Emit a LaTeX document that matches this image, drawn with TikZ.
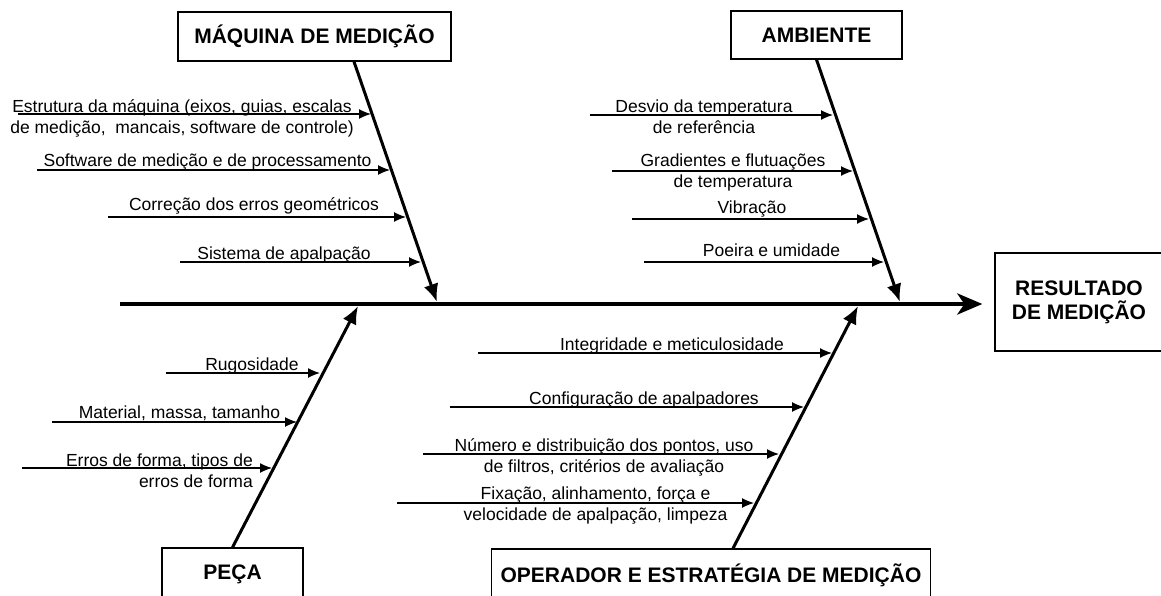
\documentclass[tikz,border=0pt]{standalone}
\usepackage{fontspec}
\setmainfont{Liberation Sans}
\usepackage{tikz}
\usetikzlibrary{arrows.meta,calc,positioning}
\tikzstyle{cause}=[draw, line width=1.3pt, inner sep=0pt, font=\bfseries\fontsize{21}{24}\selectfont]
\tikzstyle{effect}=[cause, align=center]
\tikzstyle{factor}=[inner sep=0pt, align=center, font=\fontsize{17.5}{21}\selectfont]
\tikzstyle{spine}=[-{Stealth[length=25pt, width=21pt, inset=7pt]}, line width=4.5pt]
\tikzstyle{bone}=[-{Latex[length=18pt, width=15pt]}, line width=3pt]
\tikzstyle{rib}=[-{Latex[length=12pt, width=10pt]}, line width=1.3pt]

\begin{document}
\begin{tikzpicture}[x=1pt, y=-1pt]
    \useasboundingbox (0,0) rectangle (1161,596);
    % heads and effect
    \node (maq) [cause, minimum width=273pt, minimum height=49pt] at (314.5,36.5) {MÁQUINA DE MEDIÇÃO};
    \node (amb) [cause, minimum width=171pt, minimum height=48pt] at (816.5,35) {AMBIENTE};
    \node (peca) [cause, minimum width=141pt, minimum height=52pt] at (232.5,574) {PEÇA};
    \node (oper) [cause, minimum width=439pt, minimum height=52pt] at (711,575) {OPERADOR E ESTRATÉGIA DE MEDIÇÃO};
    \node (res) [effect, minimum width=168pt, minimum height=98pt] at (1079,302) {RESULTADO\\DE MEDIÇÃO};
    %
    \coordinate (tail) at (120,304);
    \draw [spine, shorten >=12pt] (tail) -- (tail -| res.west);
    %
    \coordinate (maqtip) at (437,302);
    \coordinate (ambtip) at (900,302);
    \coordinate (pecatip) at (358,306);
    \coordinate (opertip) at (858,306);
    \draw [bone] ([xshift=39.5pt]maq.south) -- (maqtip);
    \draw [bone] (amb.south) -- (ambtip);
    \draw [bone] (peca.north) -- (pecatip);
    \draw [bone] ([xshift=22pt]oper.north) -- (opertip);
    % maquina de medicao
    \coordinate (m1) at (18,114);  \coordinate (m1e) at (371,114);
    \coordinate (m2) at (37,170);  \coordinate (m2e) at (390,170);
    \coordinate (m3) at (108,217); \coordinate (m3e) at (406,217);
    \coordinate (m4) at (180,262); \coordinate (m4e) at (421,262);
    \draw [rib] (m1) -- (m1e);
    \draw [rib] (m2) -- (m2e);
    \draw [rib] (m3) -- (m3e);
    \draw [rib] (m4) -- (m4e);
    \node (lm1) [factor] at (182,118) {Estrutura da máquina (eixos, guias, escalas\\de medição,\ \ mancais, software de controle)};
    \node (lm2) [factor, anchor=base] at (207.5,167) {Software de medição e de processamento};
    \node (lm3) [factor, anchor=base] at (254,210) {Correção dos erros geométricos};
    \node (lm4) [factor, anchor=base] at (284,259) {Sistema de apalpação};
    % ambiente
    \coordinate (a1) at (590,115); \coordinate (a1e) at (833,115);
    \coordinate (a2) at (612,171); \coordinate (a2e) at (853,171);
    \coordinate (a3) at (632,219); \coordinate (a3e) at (869,219);
    \coordinate (a4) at (644,262); \coordinate (a4e) at (884,262);
    \draw [rib] (a1) -- (a1e);
    \draw [rib] (a2) -- (a2e);
    \draw [rib] (a3) -- (a3e);
    \draw [rib] (a4) -- (a4e);
    \node (la1) [factor] at (704,117) {Desvio da temperatura\\de referência};
    \node (la2) [factor] at (733,172) {Gradientes e flutuações\\de temperatura};
    \node (la3) [factor, anchor=base] at (752,214) {Vibração};
    \node (la4) [factor, anchor=base] at (771.5,256) {Poeira e umidade};
    % peca
    \coordinate (p1) at (166,373); \coordinate (p1e) at (320,373);
    \coordinate (p2) at (52,422);  \coordinate (p2e) at (297,422);
    \coordinate (p3) at (22,468);  \coordinate (p3e) at (272,468);
    \draw [rib] (p1) -- (p1e);
    \draw [rib] (p2) -- (p2e);
    \draw [rib] (p3) -- (p3e);
    \node (lp1) [factor, anchor=base] at (252,370) {Rugosidade};
    \node (lp2) [factor, anchor=base] at (179.5,418) {Material, massa, tamanho};
    \node (lp3) [factor, align=right, anchor=east] at (253,471) {Erros de forma, tipos de\\erros de forma};
    % operador e estrategia
    \coordinate (o1) at (478,353); \coordinate (o1e) at (832,353);
    \coordinate (o2) at (450,407); \coordinate (o2e) at (804,407);
    \coordinate (o3) at (423,454); \coordinate (o3e) at (779,454);
    \coordinate (o4) at (397,503); \coordinate (o4e) at (754,503);
    \draw [rib] (o1) -- (o1e);
    \draw [rib] (o2) -- (o2e);
    \draw [rib] (o3) -- (o3e);
    \draw [rib] (o4) -- (o4e);
    \node (lo1) [factor, anchor=base] at (672,350) {Integridade e meticulosidade};
    \node (lo2) [factor, anchor=base] at (644,404) {Configuração de apalpadores};
    \node (lo3) [factor] at (604,457) {Número e distribuição dos pontos, uso\\de filtros, critérios de avaliação};
    \node (lo4) [factor] at (595.5,506) {Fixação, alinhamento, força e\\velocidade de apalpação, limpeza};
\end{tikzpicture}
\end{document}
